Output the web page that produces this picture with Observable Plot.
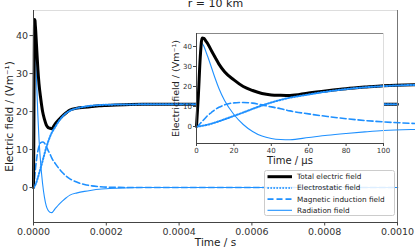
<!DOCTYPE html>
<html>
<head>
<meta charset="utf-8">
<script src="https://cdn.jsdelivr.net/npm/d3@7"></script>
<script src="https://cdn.jsdelivr.net/npm/@observablehq/plot@0.6"></script>
<style>
  body { margin: 0; background: white; }
  #wrap { position: relative; width: 415px; height: 249px; overflow: hidden; font-family: "DejaVu Sans", sans-serif; }
  #wrap > svg { position: absolute; left: 0; top: 0; }
</style>
</head>
<body>
<div id="wrap"></div>
<script>
// time in microseconds
const T_US  = [0,1,2,3,4,5,6,8,10,12,15,20,25,30,35,40,45,50,60,70,80,90,100,120,140,160,180,200,250,300,400,500,600,700,800,900,1000];
const TOTAL = [0,15.5,34.6,44.2,44.0,42.7,41.4,37.9,34.5,31.2,27.4,23.3,20.0,18.0,16.5,15.8,15.6,15.5,16.8,17.9,18.9,19.7,20.4,20.9,21.1,21.3,21.5,21.6,21.8,21.9,21.9,21.9,21.9,21.9,21.9,21.9,21.9];
const ESTAT = [0,0.05,0.15,0.3,0.5,0.7,0.9,1.4,2.0,2.6,3.6,5.3,7.0,8.8,10.5,12.0,13.3,14.4,16.0,17.5,18.7,19.6,20.2,20.9,21.3,21.55,21.7,21.8,21.85,21.9,21.9,21.9,21.9,21.9,21.9,21.9,21.9];
const MAGN  = [0,0.5,1.5,2.5,3.5,4.5,5.5,7.0,8.5,9.6,10.8,11.8,12.0,11.7,10.8,9.8,8.9,7.8,6.3,5.0,3.9,3.0,2.3,1.4,0.8,0.45,0.25,0.12,0.03,0,0,0,0,0,0,0,0];
const RADI  = [0,15,33,41.5,40,37.5,35,29.5,24,19,13,6,1,-2.5,-4.8,-6,-6.5,-6.6,-5.5,-4.4,-3.5,-2.7,-2.0,-1.4,-1.0,-0.7,-0.45,-0.3,-0.1,0,0,0,0,0,0,0,0];

const MAIN_X_TICKS = [0,0.0002,0.0004,0.0006,0.0008,0.0010];
const MAIN_Y_TICKS = [0,10,20,30,40];
const INSET_X_TICKS = [0,20,40,60,80,100];
const INSET_Y_TICKS = [0,10,20,30,40];

const SERIES = ["Total electric field","Electrostatic field","Magnetic induction field","Radiation field"];
const BLUE = "#1e90ff";

const rows = T_US.map((t,i)=>({us:t, s:t*1e-6, tot:TOTAL[i], es:ESTAT[i], mag:MAGN[i], rad:RADI[i]}));

function seriesMarks(xKey) {
  return [
    Plot.line(rows, {x:xKey, y:"rad", stroke:BLUE, strokeWidth:1.1, curve:"monotone-x"}),
    Plot.line(rows, {x:xKey, y:"mag", stroke:BLUE, strokeWidth:1.6, strokeDasharray:"6,3", curve:"monotone-x"}),
    Plot.line(rows, {x:xKey, y:"tot", stroke:"black", strokeWidth:3, curve:"monotone-x"}),
    Plot.line(rows, {x:xKey, y:"es", stroke:BLUE, strokeWidth:2, strokeDasharray:"1.3,1.7", curve:"monotone-x"})
  ];
}

const YD = [-9.2, 46.6];
const main = Plot.plot({
  width:415, height:249,
  marginLeft:33, marginRight:18, marginTop:10, marginBottom:27,
  style:{fontFamily:"DejaVu Sans", fontSize:"9.5px", color:"#333", background:"transparent", overflow:"visible"},
  x:{domain:[0,0.001]},
  y:{domain:YD},
  marks:[
    ...seriesMarks("s"),
    Plot.ruleY([YD[1]], {stroke:"#dddddd", strokeWidth:1}),
    Plot.ruleX([0.001], {stroke:"#777", strokeWidth:1}),
    Plot.ruleX([0], {stroke:"#444", strokeWidth:1}),
    Plot.ruleY([YD[0]], {stroke:"#444", strokeWidth:1}),
    Plot.axisX({ticks:MAIN_X_TICKS, tickFormat:d=>d.toFixed(4), tickSize:3.5, tickPadding:2, label:null, stroke:"#444"}),
    Plot.axisY({ticks:MAIN_Y_TICKS, tickSize:3.5, tickPadding:2, label:null, stroke:"#444"}),
    Plot.text(["Time / s"], {frameAnchor:"bottom", textAnchor:"middle", lineAnchor:"middle", dy:20, fontSize:10.5, fill:"#222"}),
    Plot.text(["Electric field / (Vm⁻¹)"], {frameAnchor:"left", textAnchor:"middle", lineAnchor:"middle", dx:-24, rotate:-90, fontSize:10.5, fill:"#222"}),
    Plot.text(["r = 10 km"], {frameAnchor:"top", textAnchor:"middle", lineAnchor:"middle", dy:-7, fontSize:11, fill:"#222"})
  ]
});
document.getElementById("wrap").appendChild(main);

const IYD = [-8.5, 46.5];
const inset = Plot.plot({
  width:415, height:249,
  marginLeft:196, marginRight:32, marginTop:33, marginBottom:106,
  style:{fontFamily:"DejaVu Sans", fontSize:"7px", color:"#333", background:"transparent", overflow:"visible"},
  x:{domain:[0,100]},
  y:{domain:IYD},
  marks:[
    Plot.frame({fill:"white", stroke:null}),
    ...seriesMarks("us"),
    Plot.ruleY([IYD[1]], {stroke:"#888", strokeWidth:1}),
    Plot.ruleX([100], {stroke:"#ddd", strokeWidth:1}),
    Plot.ruleX([0], {stroke:"#444", strokeWidth:1}),
    Plot.ruleY([IYD[0]], {stroke:"#444", strokeWidth:1}),
    Plot.axisX({ticks:INSET_X_TICKS, tickSize:3, tickPadding:1.5, label:null, stroke:"#444"}),
    Plot.axisY({ticks:INSET_Y_TICKS, tickSize:3, tickPadding:1.5, label:null, stroke:"#444"}),
    Plot.text(["Time / μs"], {frameAnchor:"bottom", textAnchor:"middle", lineAnchor:"middle", dy:17, fontSize:10, fill:"#222"}),
    Plot.text(["Electricfield / (Vm⁻¹)"], {frameAnchor:"left", textAnchor:"middle", lineAnchor:"middle", dx:-21, rotate:-90, fontSize:9.5, fill:"#222"})
  ]
});
document.getElementById("wrap").appendChild(inset);

// legend
const legStyles = [
  {stroke:"black", w:3, dash:null},
  {stroke:BLUE, w:2, dash:"1.3,1.7"},
  {stroke:BLUE, w:1.6, dash:"6,3"},
  {stroke:BLUE, w:1.1, dash:null}
];
const ns = "http://www.w3.org/2000/svg";
const leg = document.createElementNS(ns, "svg");
leg.setAttribute("width", 415); leg.setAttribute("height", 249);
const box = document.createElementNS(ns, "rect");
box.setAttribute("x", 264.5); box.setAttribute("y", 170.5);
box.setAttribute("width", 130); box.setAttribute("height", 45);
box.setAttribute("rx", 2);
box.setAttribute("fill", "white"); box.setAttribute("fill-opacity", 0.85);
box.setAttribute("stroke", "#ccc");
leg.appendChild(box);
SERIES.forEach((name, i) => {
  const y = 176.7 + i*11.2;
  const st = legStyles[i];
  const l = document.createElementNS(ns, "line");
  l.setAttribute("x1", 267.5); l.setAttribute("x2", 292);
  l.setAttribute("y1", y); l.setAttribute("y2", y);
  l.setAttribute("stroke", st.stroke); l.setAttribute("stroke-width", st.w);
  if (st.dash) l.setAttribute("stroke-dasharray", st.dash);
  leg.appendChild(l);
  const t = document.createElementNS(ns, "text");
  t.setAttribute("x", 297); t.setAttribute("y", y);
  t.setAttribute("dy", "0.35em");
  t.setAttribute("font-size", "7.3px");
  t.setAttribute("font-family", "DejaVu Sans");
  t.setAttribute("fill", "#222");
  t.textContent = name;
  leg.appendChild(t);
});
document.getElementById("wrap").appendChild(leg);
</script>
</body>
</html>
